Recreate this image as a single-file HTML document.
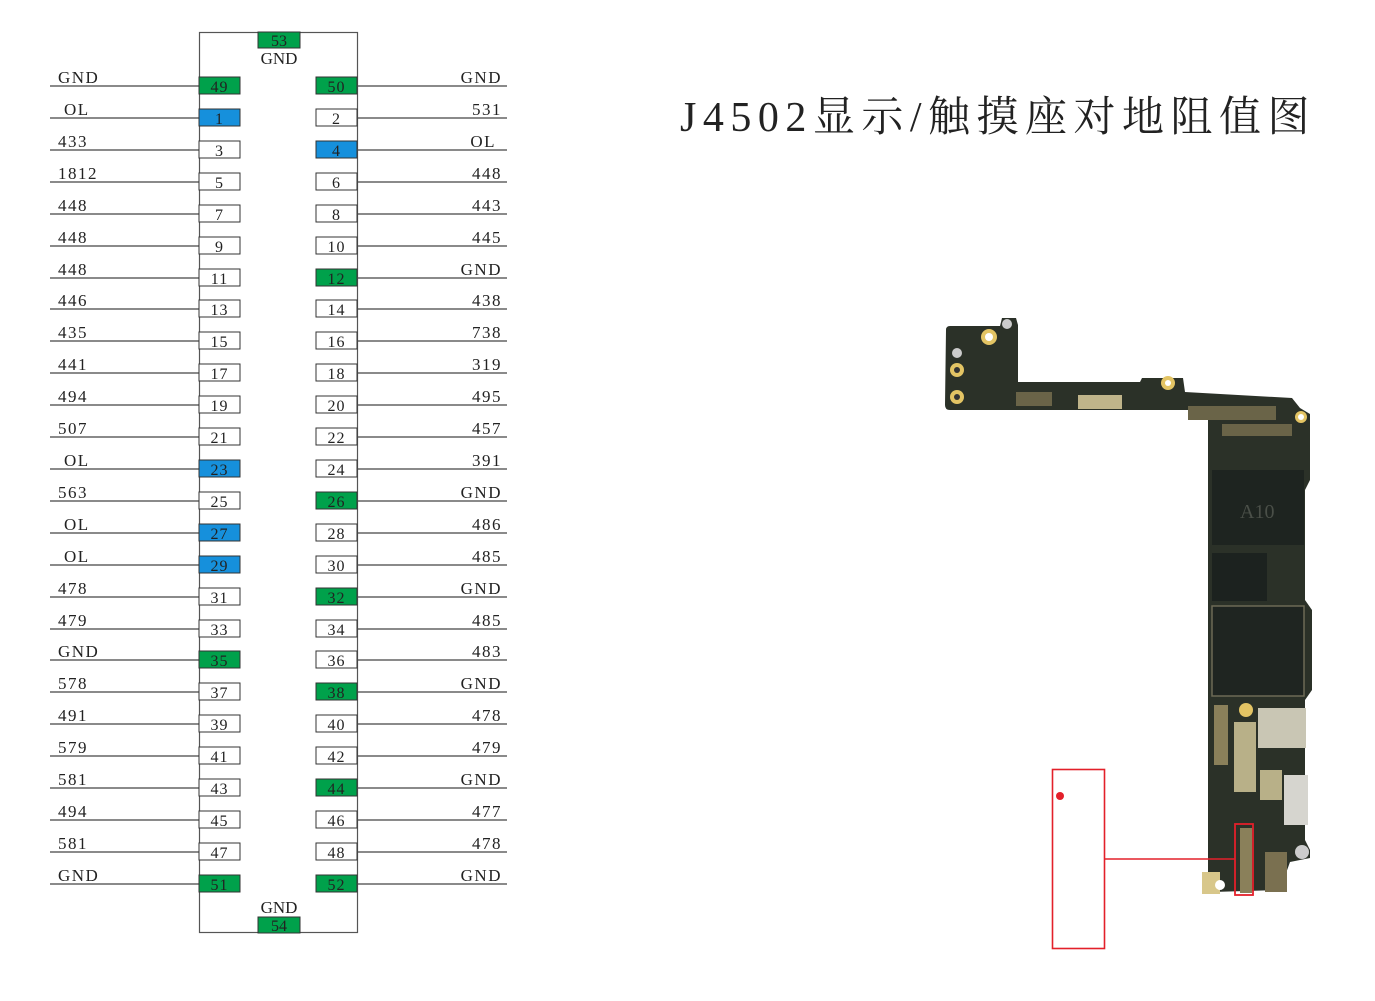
<!DOCTYPE html>
<html><head><meta charset="utf-8"><style>
html,body{margin:0;padding:0;background:#fff;width:1375px;height:1001px;overflow:hidden}
svg text{font-family:"Liberation Serif","Noto Serif CJK SC",serif}
</style></head><body>
<svg width="1375" height="1001" xmlns="http://www.w3.org/2000/svg">
<rect x="199.5" y="32.5" width="158" height="900" fill="none" stroke="#555" stroke-width="1.2"/>
<rect x="258" y="32" width="42" height="16" fill="#00a14b" stroke="#333"/>
<text x="279" y="46" font-size="16" text-anchor="middle" fill="#222">53</text>
<text x="279" y="64" font-size="17" text-anchor="middle" fill="#222">GND</text>
<rect x="258" y="917" width="42" height="16" fill="#00a14b" stroke="#333"/>
<text x="279" y="931" font-size="16" text-anchor="middle" fill="#222">54</text>
<text x="279" y="913" font-size="17" text-anchor="middle" fill="#222">GND</text>

<g stroke="#444" stroke-width="1.3">
<line x1="50" x2="199" y1="86" y2="86"/><line x1="358" x2="507" y1="86" y2="86"/>
<line x1="50" x2="199" y1="118" y2="118"/><line x1="358" x2="507" y1="118" y2="118"/>
<line x1="50" x2="199" y1="150" y2="150"/><line x1="358" x2="507" y1="150" y2="150"/>
<line x1="50" x2="199" y1="182" y2="182"/><line x1="358" x2="507" y1="182" y2="182"/>
<line x1="50" x2="199" y1="214" y2="214"/><line x1="358" x2="507" y1="214" y2="214"/>
<line x1="50" x2="199" y1="246" y2="246"/><line x1="358" x2="507" y1="246" y2="246"/>
<line x1="50" x2="199" y1="278" y2="278"/><line x1="358" x2="507" y1="278" y2="278"/>
<line x1="50" x2="199" y1="309" y2="309"/><line x1="358" x2="507" y1="309" y2="309"/>
<line x1="50" x2="199" y1="341" y2="341"/><line x1="358" x2="507" y1="341" y2="341"/>
<line x1="50" x2="199" y1="373" y2="373"/><line x1="358" x2="507" y1="373" y2="373"/>
<line x1="50" x2="199" y1="405" y2="405"/><line x1="358" x2="507" y1="405" y2="405"/>
<line x1="50" x2="199" y1="437" y2="437"/><line x1="358" x2="507" y1="437" y2="437"/>
<line x1="50" x2="199" y1="469" y2="469"/><line x1="358" x2="507" y1="469" y2="469"/>
<line x1="50" x2="199" y1="501" y2="501"/><line x1="358" x2="507" y1="501" y2="501"/>
<line x1="50" x2="199" y1="533" y2="533"/><line x1="358" x2="507" y1="533" y2="533"/>
<line x1="50" x2="199" y1="565" y2="565"/><line x1="358" x2="507" y1="565" y2="565"/>
<line x1="50" x2="199" y1="597" y2="597"/><line x1="358" x2="507" y1="597" y2="597"/>
<line x1="50" x2="199" y1="629" y2="629"/><line x1="358" x2="507" y1="629" y2="629"/>
<line x1="50" x2="199" y1="660" y2="660"/><line x1="358" x2="507" y1="660" y2="660"/>
<line x1="50" x2="199" y1="692" y2="692"/><line x1="358" x2="507" y1="692" y2="692"/>
<line x1="50" x2="199" y1="724" y2="724"/><line x1="358" x2="507" y1="724" y2="724"/>
<line x1="50" x2="199" y1="756" y2="756"/><line x1="358" x2="507" y1="756" y2="756"/>
<line x1="50" x2="199" y1="788" y2="788"/><line x1="358" x2="507" y1="788" y2="788"/>
<line x1="50" x2="199" y1="820" y2="820"/><line x1="358" x2="507" y1="820" y2="820"/>
<line x1="50" x2="199" y1="852" y2="852"/><line x1="358" x2="507" y1="852" y2="852"/>
<line x1="50" x2="199" y1="884" y2="884"/><line x1="358" x2="507" y1="884" y2="884"/>
</g>

<g stroke="#333" stroke-width="1">
<rect x="199" y="77" width="41" height="17" fill="#00a14b"/>
<rect x="199" y="109" width="41" height="17" fill="#1690dc"/>
<rect x="199" y="141" width="41" height="17" fill="#fff"/>
<rect x="199" y="173" width="41" height="17" fill="#fff"/>
<rect x="199" y="205" width="41" height="17" fill="#fff"/>
<rect x="199" y="237" width="41" height="17" fill="#fff"/>
<rect x="199" y="269" width="41" height="17" fill="#fff"/>
<rect x="199" y="300" width="41" height="17" fill="#fff"/>
<rect x="199" y="332" width="41" height="17" fill="#fff"/>
<rect x="199" y="364" width="41" height="17" fill="#fff"/>
<rect x="199" y="396" width="41" height="17" fill="#fff"/>
<rect x="199" y="428" width="41" height="17" fill="#fff"/>
<rect x="199" y="460" width="41" height="17" fill="#1690dc"/>
<rect x="199" y="492" width="41" height="17" fill="#fff"/>
<rect x="199" y="524" width="41" height="17" fill="#1690dc"/>
<rect x="199" y="556" width="41" height="17" fill="#1690dc"/>
<rect x="199" y="588" width="41" height="17" fill="#fff"/>
<rect x="199" y="620" width="41" height="17" fill="#fff"/>
<rect x="199" y="651" width="41" height="17" fill="#00a14b"/>
<rect x="199" y="683" width="41" height="17" fill="#fff"/>
<rect x="199" y="715" width="41" height="17" fill="#fff"/>
<rect x="199" y="747" width="41" height="17" fill="#fff"/>
<rect x="199" y="779" width="41" height="17" fill="#fff"/>
<rect x="199" y="811" width="41" height="17" fill="#fff"/>
<rect x="199" y="843" width="41" height="17" fill="#fff"/>
<rect x="199" y="875" width="41" height="17" fill="#00a14b"/>
</g>
<g stroke="#333" stroke-width="1">
<rect x="316" y="77" width="41" height="17" fill="#00a14b"/>
<rect x="316" y="109" width="41" height="17" fill="#fff"/>
<rect x="316" y="141" width="41" height="17" fill="#1690dc"/>
<rect x="316" y="173" width="41" height="17" fill="#fff"/>
<rect x="316" y="205" width="41" height="17" fill="#fff"/>
<rect x="316" y="237" width="41" height="17" fill="#fff"/>
<rect x="316" y="269" width="41" height="17" fill="#00a14b"/>
<rect x="316" y="300" width="41" height="17" fill="#fff"/>
<rect x="316" y="332" width="41" height="17" fill="#fff"/>
<rect x="316" y="364" width="41" height="17" fill="#fff"/>
<rect x="316" y="396" width="41" height="17" fill="#fff"/>
<rect x="316" y="428" width="41" height="17" fill="#fff"/>
<rect x="316" y="460" width="41" height="17" fill="#fff"/>
<rect x="316" y="492" width="41" height="17" fill="#00a14b"/>
<rect x="316" y="524" width="41" height="17" fill="#fff"/>
<rect x="316" y="556" width="41" height="17" fill="#fff"/>
<rect x="316" y="588" width="41" height="17" fill="#00a14b"/>
<rect x="316" y="620" width="41" height="17" fill="#fff"/>
<rect x="316" y="651" width="41" height="17" fill="#fff"/>
<rect x="316" y="683" width="41" height="17" fill="#00a14b"/>
<rect x="316" y="715" width="41" height="17" fill="#fff"/>
<rect x="316" y="747" width="41" height="17" fill="#fff"/>
<rect x="316" y="779" width="41" height="17" fill="#00a14b"/>
<rect x="316" y="811" width="41" height="17" fill="#fff"/>
<rect x="316" y="843" width="41" height="17" fill="#fff"/>
<rect x="316" y="875" width="41" height="17" fill="#00a14b"/>
</g>

<g font-size="16" fill="#222" text-anchor="middle" letter-spacing="1">
<text x="219.5" y="92">49</text><text x="336.5" y="92">50</text>
<text x="219.5" y="124">1</text><text x="336.5" y="124">2</text>
<text x="219.5" y="156">3</text><text x="336.5" y="156">4</text>
<text x="219.5" y="188">5</text><text x="336.5" y="188">6</text>
<text x="219.5" y="220">7</text><text x="336.5" y="220">8</text>
<text x="219.5" y="252">9</text><text x="336.5" y="252">10</text>
<text x="219.5" y="284">11</text><text x="336.5" y="284">12</text>
<text x="219.5" y="315">13</text><text x="336.5" y="315">14</text>
<text x="219.5" y="347">15</text><text x="336.5" y="347">16</text>
<text x="219.5" y="379">17</text><text x="336.5" y="379">18</text>
<text x="219.5" y="411">19</text><text x="336.5" y="411">20</text>
<text x="219.5" y="443">21</text><text x="336.5" y="443">22</text>
<text x="219.5" y="475">23</text><text x="336.5" y="475">24</text>
<text x="219.5" y="507">25</text><text x="336.5" y="507">26</text>
<text x="219.5" y="539">27</text><text x="336.5" y="539">28</text>
<text x="219.5" y="571">29</text><text x="336.5" y="571">30</text>
<text x="219.5" y="603">31</text><text x="336.5" y="603">32</text>
<text x="219.5" y="635">33</text><text x="336.5" y="635">34</text>
<text x="219.5" y="666">35</text><text x="336.5" y="666">36</text>
<text x="219.5" y="698">37</text><text x="336.5" y="698">38</text>
<text x="219.5" y="730">39</text><text x="336.5" y="730">40</text>
<text x="219.5" y="762">41</text><text x="336.5" y="762">42</text>
<text x="219.5" y="794">43</text><text x="336.5" y="794">44</text>
<text x="219.5" y="826">45</text><text x="336.5" y="826">46</text>
<text x="219.5" y="858">47</text><text x="336.5" y="858">48</text>
<text x="219.5" y="890">51</text><text x="336.5" y="890">52</text>
</g>

<g font-size="17" fill="#222" letter-spacing="1.5">
<text x="58" y="83">GND</text>
<text x="64" y="115">OL</text>
<text x="58" y="147">433</text>
<text x="58" y="179">1812</text>
<text x="58" y="211">448</text>
<text x="58" y="243">448</text>
<text x="58" y="275">448</text>
<text x="58" y="306">446</text>
<text x="58" y="338">435</text>
<text x="58" y="370">441</text>
<text x="58" y="402">494</text>
<text x="58" y="434">507</text>
<text x="64" y="466">OL</text>
<text x="58" y="498">563</text>
<text x="64" y="530">OL</text>
<text x="64" y="562">OL</text>
<text x="58" y="594">478</text>
<text x="58" y="626">479</text>
<text x="58" y="657">GND</text>
<text x="58" y="689">578</text>
<text x="58" y="721">491</text>
<text x="58" y="753">579</text>
<text x="58" y="785">581</text>
<text x="58" y="817">494</text>
<text x="58" y="849">581</text>
<text x="58" y="881">GND</text>
</g>
<g font-size="17" fill="#222" letter-spacing="1.5" text-anchor="end">
<text x="502" y="83">GND</text>
<text x="502" y="115">531</text>
<text x="496" y="147">OL</text>
<text x="502" y="179">448</text>
<text x="502" y="211">443</text>
<text x="502" y="243">445</text>
<text x="502" y="275">GND</text>
<text x="502" y="306">438</text>
<text x="502" y="338">738</text>
<text x="502" y="370">319</text>
<text x="502" y="402">495</text>
<text x="502" y="434">457</text>
<text x="502" y="466">391</text>
<text x="502" y="498">GND</text>
<text x="502" y="530">486</text>
<text x="502" y="562">485</text>
<text x="502" y="594">GND</text>
<text x="502" y="626">485</text>
<text x="502" y="657">483</text>
<text x="502" y="689">GND</text>
<text x="502" y="721">478</text>
<text x="502" y="753">479</text>
<text x="502" y="785">GND</text>
<text x="502" y="817">477</text>
<text x="502" y="849">478</text>
<text x="502" y="881">GND</text>
</g>

<text x="680" y="131" font-size="42" fill="#222" letter-spacing="6.5" font-family="'Liberation Serif','Noto Serif CJK SC',serif">J4502显示/触摸座对地阻值图</text>

<path d="M946,330 Q946,326 950,326 L1000,326 L1002,318 L1016,318 L1018,325 L1018,382 L1140,382 L1142,378 L1183,378 L1185,392 L1292,398 L1300,408 L1310,414 L1310,480 L1305,490 L1305,600 L1312,610 L1312,690 L1305,700 L1305,840 L1310,850 L1310,858 L1290,862 L1280,890 L1212,892 L1208,880 L1208,420 L1200,410 L950,410 Q945,410 945,405 Z" fill="#2b3128"/>
<rect x="1212" y="470" width="92" height="75" fill="#1e2420"/>
<text x="1240" y="518" font-family="'Liberation Sans',sans-serif" font-size="20" fill="#4a4f48">A10</text>
<rect x="1212" y="553" width="55" height="48" fill="#1c221f"/>
<rect x="1212" y="606" width="92" height="90" fill="#1f2521" stroke="#6d6a55" stroke-width="1.5"/>
<rect x="1258" y="708" width="48" height="40" fill="#c9c6b4"/>
<rect x="1234" y="722" width="22" height="70" fill="#b8b088"/>
<rect x="1284" y="775" width="24" height="50" fill="#d6d5cf"/>
<rect x="1260" y="770" width="22" height="30" fill="#b8b088"/>
<rect x="1214" y="705" width="14" height="60" fill="#8a805a"/>
<rect x="1265" y="852" width="22" height="40" fill="#7a7050"/>
<rect x="1240" y="828" width="12" height="65" fill="#8a805a"/>
<rect x="1202" y="872" width="18" height="22" fill="#d8c78a"/>
<rect x="1188" y="406" width="88" height="14" fill="#6a6448"/>
<rect x="1222" y="424" width="70" height="12" fill="#6a6448"/>
<rect x="1016" y="392" width="36" height="14" fill="#6a6448"/>
<rect x="1078" y="395" width="44" height="14" fill="#bfb48a"/>
<circle cx="1168" cy="383" r="7" fill="#e3c464"/><circle cx="1168" cy="383" r="3" fill="#fff"/>
<circle cx="1007" cy="324" r="5" fill="#ccc"/>
<circle cx="989" cy="337" r="8" fill="#e3c464"/><circle cx="989" cy="337" r="4" fill="#fff"/>
<circle cx="957" cy="370" r="7" fill="#e3c464"/><circle cx="957" cy="370" r="3" fill="#333"/>
<circle cx="957" cy="397" r="7" fill="#e3c464"/><circle cx="957" cy="397" r="3" fill="#333"/>
<circle cx="957" cy="353" r="5" fill="#ccc"/>
<circle cx="1301" cy="417" r="6" fill="#e3c464"/><circle cx="1301" cy="417" r="3" fill="#fff"/>
<circle cx="1246" cy="710" r="7" fill="#e3c464"/>
<circle cx="1302" cy="852" r="7" fill="#ccc"/>
<circle cx="1220" cy="885" r="5" fill="#fff"/>

<rect x="1052.5" y="769.5" width="52" height="179" fill="none" stroke="#e3202a" stroke-width="1.6"/>
<line x1="1105" y1="859" x2="1235" y2="859" stroke="#e3202a" stroke-width="1.6"/>
<rect x="1235" y="824" width="18" height="71" fill="none" stroke="#e3202a" stroke-width="1.8"/>
<circle cx="1060" cy="796" r="4" fill="#e3202a"/>
</svg>
</body></html>
